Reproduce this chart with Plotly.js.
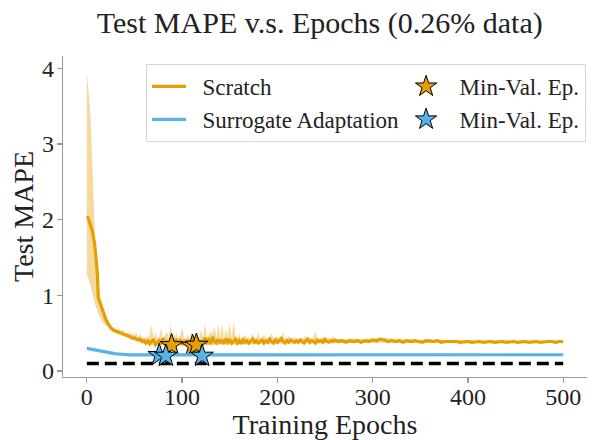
<!DOCTYPE html>
<html>
<head>
<meta charset="utf-8">
<script src="https://cdn.plot.ly/plotly-3.0.1.min.js"></script>
<style>html,body{margin:0;padding:0;background:#fff;}#chart{width:602px;height:440px;}</style>
</head>
<body>
<div id="chart"></div>
<script>
// ---------------- data ----------------
const scratchEpochs = [
  0,1,2,3,4,5,6,7,8,9,10,11,12,13,14,15,16,17,18,19,20,
  22,24,26,28,30,32,34,36,38,40,42,44,46,48,50,52,54,56,58,60,
  62,64,66,68,70,72,74,76,78,80,82,84,86,88,90,92,94,96,98,100,
  102,104,106,108,110,112,114,116,118,120,122,124,126,128,130,132,134,136,138,140,
  142,144,146,148,150,152,154,156,158,160,162,164,166,168,170,172,174,176,178,180,
  182,184,186,188,190,192,194,196,198,200,202,204,206,208,210,212,214,216,218,220,
  222,224,226,228,230,232,234,236,238,240,242,244,246,248,250,252,254,256,258,260,
  264,268,272,276,280,284,288,292,296,300,304,308,312,316,320,324,328,332,336,340,
  344,348,352,356,360,364,368,372,376,380,384,388,392,396,400,404,408,412,416,420,
  424,428,432,436,440,444,448,452,456,460,464,468,472,476,480,484,488,492,496,500
];
const scratchMean = [
  2.04,2.03,2.00,1.96,1.92,1.88,1.84,1.76,1.70,1.58,1.45,1.30,0.97,0.93,0.89,0.85,0.81,0.78,0.74,0.71,0.68,
  0.63,0.59,0.56,0.54,0.53,0.52,0.51,0.50,0.50,0.48,0.47,0.46,0.45,0.43,0.44,0.42,0.41,0.42,0.39,0.40,
  0.37,0.41,0.36,0.39,0.42,0.35,0.38,0.40,0.36,0.43,0.37,0.39,0.35,0.41,0.38,0.36,0.42,0.37,0.40,0.35,
  0.39,0.36,0.41,0.37,0.35,0.40,0.38,0.42,0.36,0.39,0.37,0.44,0.38,0.41,0.36,0.45,0.39,0.37,0.42,0.38,
  0.40,0.36,0.43,0.38,0.41,0.37,0.39,0.42,0.37,0.40,0.36,0.41,0.38,0.40,0.37,0.39,0.42,0.38,0.40,0.37,
  0.39,0.41,0.37,0.40,0.38,0.42,0.39,0.37,0.41,0.38,0.40,0.43,0.39,0.37,0.40,0.38,0.41,0.39,0.38,0.40,
  0.38,0.41,0.39,0.37,0.40,0.42,0.38,0.40,0.39,0.37,0.41,0.39,0.40,0.38,0.42,0.39,0.38,0.40,0.39,0.41,
  0.39,0.40,0.38,0.40,0.39,0.40,0.38,0.40,0.39,0.41,0.40,0.42,0.41,0.39,0.40,0.39,0.40,0.38,0.40,0.39,
  0.40,0.39,0.38,0.40,0.39,0.39,0.40,0.38,0.39,0.39,0.40,0.39,0.38,0.39,0.39,0.38,0.39,0.39,0.38,0.39,
  0.39,0.38,0.39,0.39,0.38,0.39,0.39,0.38,0.39,0.39,0.38,0.39,0.39,0.38,0.39,0.39,0.39,0.38,0.39,0.39
];
const scratchUpperEpochs = [
  0,1,2,3,4,5,6,7,8,9,10,11,12,13,14,15,16,17,18,19,20,
  22,24,26,28,30,32,34,36,38,40,42,44,46,48,50,52,54,56,58,60,
  62,64,66,68,70,72,74,76,78,80,82,84,86,88,90,92,94,96,98,100,
  102,104,106,108,110,112,114,116,118,120,122,124,126,128,130,132,134,136,138,140,
  142,144,146,148,150,152,154,156,158,160,162,164,166,168,170,172,174,176,178,180,
  182,184,186,188,190,192,194,196,198,200,202,204,206,208,210,212,214,216,218,220,
  222,224,226,228,230,232,234,236,238,240,242,244,246,248,250,252,254,256,258,260,
  270,280,290,300,310,320,330,340,350,360,370,380,390,400,410,420,430,440,450,460,470,480,490,500
];
const scratchUpper = [
  3.97,3.85,3.70,3.52,3.33,2.95,2.50,2.20,1.90,1.65,1.48,1.35,1.20,1.10,1.00,0.94,0.89,0.84,0.80,0.76,0.73,
  0.67,0.62,0.59,0.57,0.56,0.55,0.56,0.53,0.55,0.51,0.50,0.52,0.48,0.50,0.47,0.51,0.45,0.49,0.43,0.46,
  0.44,0.45,0.48,0.61,0.44,0.50,0.43,0.46,0.57,0.44,0.47,0.52,0.45,0.61,0.44,0.46,0.50,0.43,0.47,0.58,
  0.44,0.43,0.48,0.42,0.52,0.45,0.44,0.50,0.43,0.55,0.44,0.63,0.45,0.47,0.52,0.50,0.58,0.44,0.63,0.45,
  0.62,0.44,0.55,0.45,0.64,0.44,0.66,0.45,0.43,0.50,0.42,0.45,0.48,0.43,0.44,0.42,0.50,0.44,0.43,0.52,
  0.43,0.45,0.47,0.43,0.44,0.45,0.50,0.43,0.44,0.46,0.42,0.44,0.52,0.43,0.44,0.47,0.42,0.43,0.45,0.43,
  0.42,0.44,0.43,0.44,0.47,0.42,0.44,0.43,0.45,0.54,0.43,0.42,0.44,0.44,0.43,0.42,0.44,0.43,0.46,0.43,
  0.42,0.43,0.42,0.43,0.44,0.43,0.42,0.42,0.41,0.42,0.41,0.41,0.41,0.41,0.41,0.40,0.40,0.40,0.40,0.40,0.40,0.40,0.40,0.40
];
const scratchLowerEpochs = [
  0,1,2,3,4,5,6,7,8,9,10,11,12,13,14,15,16,17,18,19,20,
  22,24,26,28,30,32,34,36,38,40,42,44,46,48,50,52,54,56,58,60,
  70,80,90,100,110,120,130,140,150,160,170,180,190,200,210,220,230,240,250,260,
  280,300,320,340,360,380,400,420,440,460,480,500
];
const scratchLower = [
  1.28,1.24,1.20,1.16,1.12,1.08,1.03,0.98,0.92,0.87,0.83,0.79,0.76,0.73,0.70,0.68,0.66,0.64,0.62,0.61,0.60,
  0.59,0.56,0.53,0.51,0.50,0.49,0.48,0.47,0.47,0.45,0.44,0.43,0.42,0.41,0.41,0.39,0.38,0.38,0.37,0.36,
  0.34,0.33,0.34,0.33,0.34,0.34,0.34,0.35,0.35,0.35,0.35,0.36,0.36,0.36,0.36,0.36,0.36,0.37,0.37,0.37,
  0.37,0.37,0.38,0.37,0.37,0.37,0.37,0.37,0.37,0.37,0.37,0.37
];

const surrogateEpochs = [0,5,10,15,20,25,30,35,40,45,50,60,
  80,100,120,140,160,180,200,220,240,260,280,300,320,340,360,380,400,420,440,460,480,500];
const surrogateMean = [0.300,0.290,0.280,0.265,0.250,0.240,0.228,0.220,0.216,0.214,0.213,0.213,
  0.214,0.213,0.214,0.213,0.214,0.215,0.214,0.215,0.214,0.215,0.215,0.214,0.215,0.215,0.214,0.215,0.215,0.214,0.215,0.215,0.215,0.215];
const surrogateUpper = [0.312,0.302,0.292,0.277,0.262,0.252,0.240,0.232,0.228,0.226,0.225,0.224,
  0.225,0.224,0.225,0.224,0.225,0.225,0.224,0.225,0.224,0.225,0.225,0.224,0.225,0.225,0.224,0.225,0.225,0.224,0.225,0.225,0.225,0.225];
const surrogateLower = [0.288,0.278,0.268,0.253,0.238,0.228,0.216,0.208,0.204,0.202,0.201,0.202,
  0.203,0.202,0.203,0.202,0.203,0.205,0.204,0.205,0.204,0.205,0.205,0.204,0.205,0.205,0.204,0.205,0.205,0.204,0.205,0.205,0.205,0.205];

const scratchStarEpochs = [89, 111, 115];
const scratchStarValues = [0.34, 0.33, 0.345];
const surrogateStarEpochs = [76, 83, 121];
const surrogateStarValues = [0.21, 0.20, 0.20];

const referenceEpochs = [0, 500];
const referenceValues = [0.10, 0.10];

const xTicks = [0, 100, 200, 300, 400, 500];
const yTicks = [0, 1, 2, 3, 4];

const seriesNames = ['Scratch', 'Surrogate Adaptation', 'Min-Val. Ep.'];
const titleText = 'Test MAPE v.s. Epochs (0.26% data)';

// ---------------- styling ----------------
const ORANGE = '#E69F00';
const BLUE = '#56B4E9';
const FONT = 'Liberation Serif, Times New Roman, serif';
const TXT = '#222222';
const AXC = '#9a9a9a';
const GAP = '\u00A0\u00A0';

function band(xu, yu, xl, yl, color) {
  return {
    x: xu.concat(xl.slice().reverse()),
    y: yu.concat(yl.slice().reverse()),
    type: 'scatter', mode: 'lines', fill: 'toself', fillcolor: color,
    line: {width: 0}, hoverinfo: 'skip', showlegend: false
  };
}

const traces = [
  band(scratchUpperEpochs, scratchUpper, scratchLowerEpochs, scratchLower, 'rgba(230,159,0,0.38)'),
  band(surrogateEpochs, surrogateUpper, surrogateEpochs, surrogateLower, 'rgba(86,180,233,0.38)'),
  {x: referenceEpochs, y: referenceValues, type: 'scatter', mode: 'lines',
   line: {color: '#000', width: 3.5, dash: '12px,6px'}, showlegend: false, hoverinfo: 'skip'},
  {x: scratchEpochs, y: scratchMean, type: 'scatter', mode: 'lines', name: GAP + seriesNames[0],
   line: {color: ORANGE, width: 3.2}},
  {x: scratchStarEpochs, y: scratchStarValues, type: 'scatter', mode: 'markers', name: GAP + seriesNames[2],
   marker: {symbol: 'star', size: 17, color: ORANGE, line: {color: '#000', width: 1}}},
  {x: surrogateEpochs, y: surrogateMean, type: 'scatter', mode: 'lines', name: GAP + seriesNames[1],
   line: {color: BLUE, width: 3.2}},
  {x: surrogateStarEpochs, y: surrogateStarValues, type: 'scatter', mode: 'markers', name: GAP + seriesNames[2],
   marker: {symbol: 'star', size: 17, color: BLUE, line: {color: '#000', width: 1}}}
];

const layout = {
  width: 602, height: 440,
  margin: {l: 63, r: 15, t: 56, b: 63, pad: 0},
  paper_bgcolor: '#fff', plot_bgcolor: '#fff',
  font: {family: FONT, color: TXT},
  title: {text: titleText, font: {family: FONT, size: 30, color: TXT},
          x: 0.49, xref: 'paper', xanchor: 'center', y: 1 - 22/440, yref: 'container', yanchor: 'middle'},
  xaxis: {
    range: [-25, 525], tickvals: xTicks, ticktext: xTicks.map(String),
    ticks: 'outside', ticklen: 5, tickwidth: 1.25, tickcolor: AXC, ticklabelstandoff: -7,
    showline: true, linecolor: AXC, linewidth: 1.25, showgrid: false, zeroline: false,
    tickfont: {family: FONT, size: 24, color: TXT},
    title: {text: 'Training Epochs', font: {family: FONT, size: 28, color: TXT}, standoff: 4}
  },
  yaxis: {
    range: [-0.079, 4.162], tickvals: yTicks, ticktext: yTicks.map(String),
    ticks: 'outside', ticklen: 5, tickwidth: 1.25, tickcolor: AXC, ticklabelstandoff: -2,
    showline: true, linecolor: AXC, linewidth: 1.25, showgrid: false, zeroline: false,
    tickfont: {family: FONT, size: 24, color: TXT},
    title: {text: 'Test MAPE', font: {family: FONT, size: 28, color: TXT}, standoff: 0}
  },
  showlegend: true,
  legend: {
    orientation: 'h', x: (146 - 63) / 524, y: (377 - 64) / 321, xanchor: 'left', yanchor: 'top',
    xref: 'paper', yref: 'paper',
    bgcolor: 'rgba(255,255,255,0.85)', bordercolor: '#d5d5d5', borderwidth: 1,
    font: {family: FONT, size: 23, color: TXT}, traceorder: 'normal', itemwidth: 34
  }
};

Plotly.newPlot('chart', traces, layout, {staticPlot: true, displayModeBar: false});
</script>
</body>
</html>
